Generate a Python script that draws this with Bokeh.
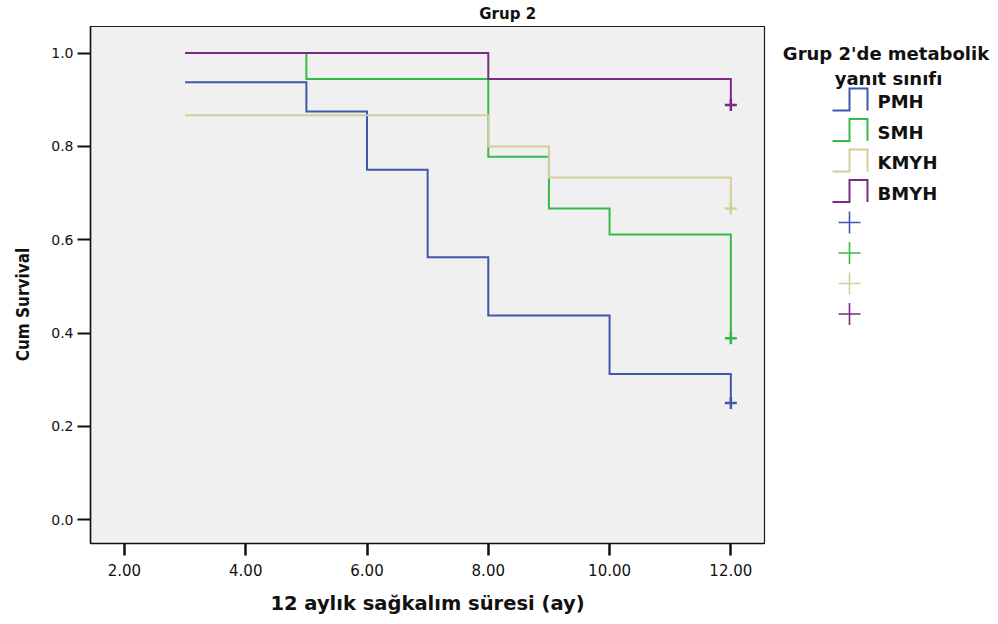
import math
from bokeh.plotting import figure
from bokeh.models import Range1d, FixedTicker, NumeralTickFormatter
from bokeh.layouts import row, column
from bokeh.core.properties import value
from bokeh.embed import file_html
from bokeh.resources import INLINE

# ---------------- data ----------------
chart_title = "Grup 2"
x_label = "12 aylık sağkalım süresi (ay)"
y_label = "Cum Survival"
legend_title = ["Grup 2'de metabolik", "yanıt sınıfı"]
categories = ["PMH", "SMH", "KMYH", "BMYH"]
colors = ["#3E58AC", "#35BA4A", "#D4CE9C", "#7B2A84"]

pmh_time = [3, 5, 6, 7, 8, 10, 12]
pmh_surv = [0.9375, 0.875, 0.75, 0.5625, 0.4375, 0.3125, 0.25]
smh_time = [3, 5, 8, 9, 10, 12]
smh_surv = [1.0, 0.9444, 0.7778, 0.6667, 0.6111, 0.3889]
kmyh_time = [3, 8, 9, 12]
kmyh_surv = [0.8667, 0.8, 0.7333, 0.6667]
bmyh_time = [3, 8, 12]
bmyh_surv = [1.0, 0.9444, 0.8889]
censor_time = [12, 12, 12, 12]
censor_surv = [0.25, 0.3889, 0.6667, 0.8889]

x_ticks = [2, 4, 6, 8, 10, 12]
y_ticks = [0.0, 0.2, 0.4, 0.6, 0.8, 1.0]

# ---------------- layout (page pixels) ----------------
TOTAL_W, TOTAL_H = 998, 624
LEFT_W = 40            # strip holding the rotated y label
TOP_H = 26             # strip holding the chart title
FRAME_L, FRAME_R, FRAME_B = 90, 764, 543
MAIN_R = 767           # right edge of main figure / left edge of legend
X0, X1 = 1.44, 12.555
Y0, Y1 = -0.051, 1.057

COMMON = dict(output_backend="svg", toolbar_location=None)


def blank(width, height, x0, x1, y_top, y_bot):
    f = figure(width=width, height=height, x_range=Range1d(x0, x1), y_range=Range1d(y_bot, y_top),
               x_axis_type=None, y_axis_type=None, min_border=0, outline_line_color=None,
               background_fill_color="white", border_fill_color="white", **COMMON)
    f.grid.visible = False
    return f


# title strip
top = blank(MAIN_R - LEFT_W, TOP_H, LEFT_W, MAIN_R, 0, TOP_H)
top.text(x=[490], y=[13], text=[chart_title], text_font=value("DejaVu Sans"),
         text_font_style="bold", text_font_size="15px", text_align="center",
         text_baseline="middle", text_color="#111111")

# y label strip
left = blank(LEFT_W, TOTAL_H, 0, LEFT_W, 0, TOTAL_H)
left.text(x=[22.5], y=[304], text=[y_label], angle=math.pi / 2,
          text_font=value("'DejaVu Sans Condensed', 'Liberation Sans', sans-serif"),
          text_font_style="bold", text_font_size="17px", text_align="center",
          text_baseline="middle", text_color="#111111")

# main plot
main_w = MAIN_R - LEFT_W
main_h = TOTAL_H - TOP_H
p = figure(width=main_w, height=main_h, x_range=Range1d(X0, X1), y_range=Range1d(Y0, Y1),
           min_border_left=FRAME_L - LEFT_W, min_border_right=MAIN_R - FRAME_R,
           min_border_top=0, min_border_bottom=TOTAL_H - FRAME_B,
           background_fill_color="#F0F0F0", border_fill_color="white",
           outline_line_color="#1a1a1a", outline_line_width=1.2, **COMMON)
p.grid.visible = False

series = [(pmh_time, pmh_surv), (smh_time, smh_surv), (kmyh_time, kmyh_surv), (bmyh_time, bmyh_surv)]
for (t, s), c in zip(series, colors):
    p.step(t, s, mode="after", line_color=c, line_width=2, line_join="miter")

p.scatter(censor_time, censor_surv, marker="cross", size=12, line_color=colors, line_width=2.5)

for ax in (p.xaxis, p.yaxis):
    ax.major_label_text_font = "DejaVu Sans"
    ax.major_label_text_color = "#111111"
    ax.major_tick_in = 0
    ax.minor_tick_in = 0
    ax.minor_tick_out = 0
    ax.axis_line_color = "#111111"
    ax.axis_line_width = 1.5
    ax.major_tick_line_color = "#111111"

p.xaxis.ticker = FixedTicker(ticks=x_ticks)
p.xaxis.formatter = NumeralTickFormatter(format="0.00")
p.xaxis.major_label_text_font_size = "15px"
p.xaxis.major_tick_out = 12
p.xaxis.major_tick_line_width = 2.5
p.xaxis.major_label_standoff = 8
p.xaxis.axis_label = x_label
p.xaxis.axis_label_text_font = "DejaVu Sans"
p.xaxis.axis_label_text_font_style = "bold"
p.xaxis.axis_label_text_font_size = "19.5px"
p.xaxis.axis_label_text_color = "#111111"
p.xaxis.axis_label_standoff = 13

p.yaxis.ticker = FixedTicker(ticks=y_ticks)
p.yaxis.formatter = NumeralTickFormatter(format="0.0")
p.yaxis.major_label_text_font_size = "14px"
p.yaxis.major_tick_out = 13
p.yaxis.major_tick_line_width = 2
p.yaxis.major_label_standoff = 4

# legend panel
leg = blank(TOTAL_W - MAIN_R, TOTAL_H, MAIN_R, TOTAL_W, 0, TOTAL_H)
row_y = [101, 131.5, 162, 192.5]
cross_y = [222, 252.5, 283, 313.5]
for c, ry in zip(colors, row_y):
    leg.line([832, 849, 849, 867, 867], [ry + 9, ry + 9, ry - 13, ry - 13, ry + 9],
             line_color=c, line_width=2, line_join="miter")
leg.scatter(x=[849] * 4, y=cross_y, marker="cross", size=22, line_color=colors, line_width=1.6)
leg.text(x=[877] * 4, y=row_y, text=categories, text_font=value("DejaVu Sans"),
         text_font_style="bold", text_font_size="18px", text_baseline="middle",
         text_align="left", text_color="#111111")
leg.text(x=[885.5, 888], y=[53, 78], text=legend_title, text_font=value("DejaVu Sans"),
         text_font_style="bold", text_font_size="18px", text_baseline="middle",
         text_align="center", text_color="#111111")

layout = row(left, column(top, p), leg)
open("out.html", "w").write(file_html(layout, INLINE))
